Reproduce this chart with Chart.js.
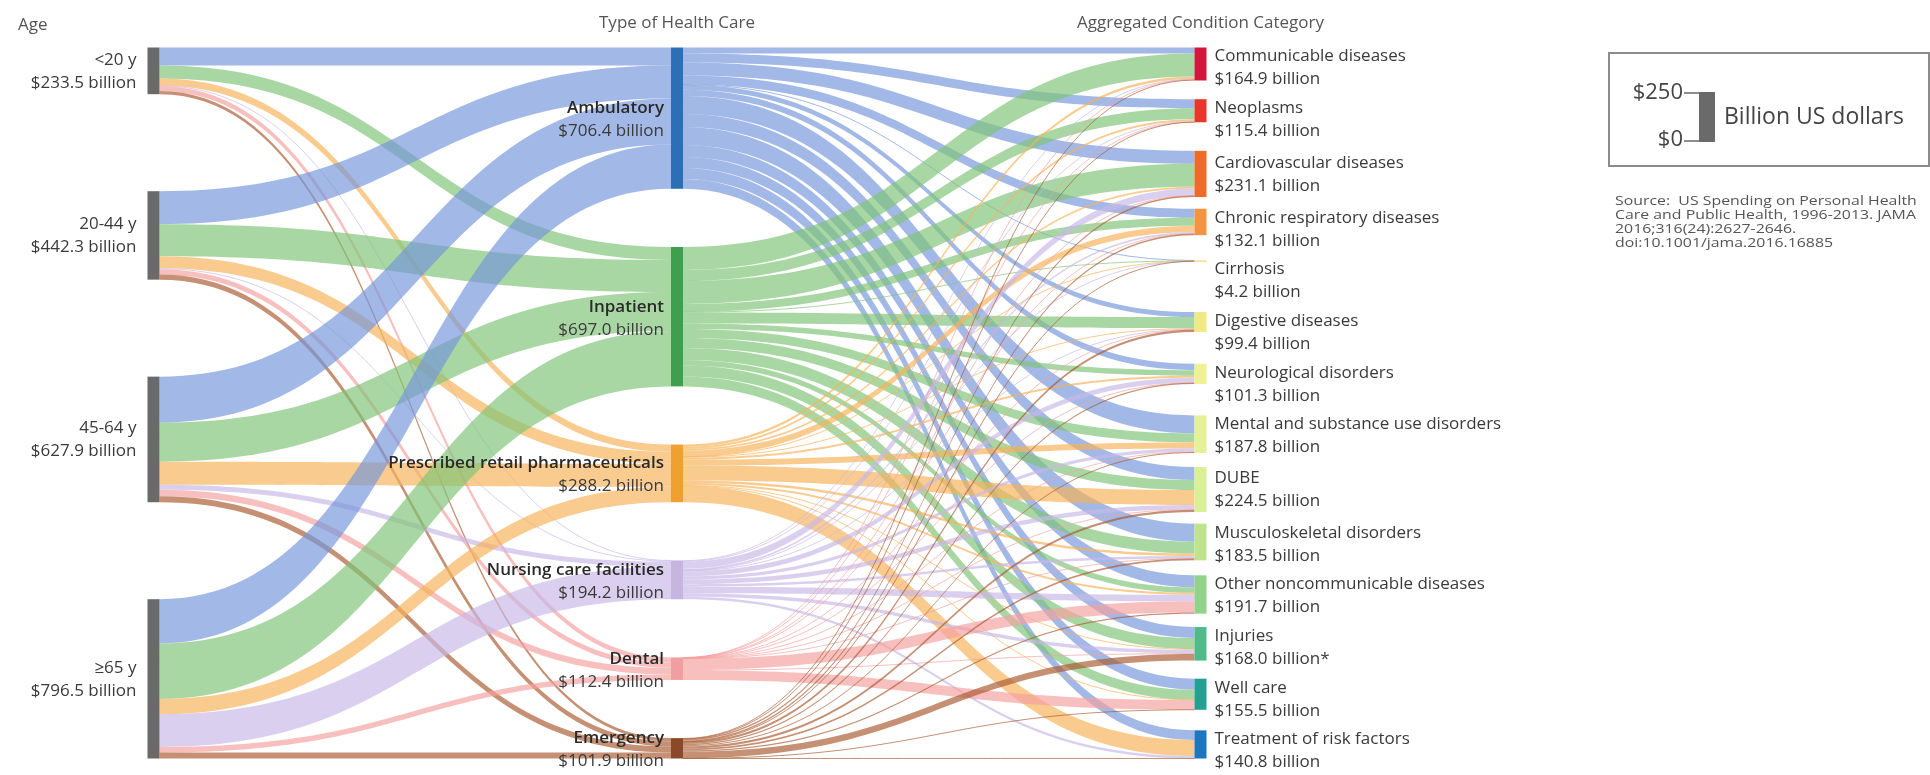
<!DOCTYPE html>
<html>
<head>
<meta charset="utf-8">
<script src="https://cdn.jsdelivr.net/npm/chart.js@4.4.1/dist/chart.umd.min.js"></script>
<style>
  html, body { margin: 0; padding: 0; background: #fff; }
  #wrap { width: 1930px; height: 775px; position: relative; }
</style>
</head>
<body>
<div id="wrap"><canvas id="sankey"></canvas></div>
<script>
// ---- data (billion US dollars) ----
const ageLabels = ['<20 y', '20-44 y', '45-64 y', '≥65 y'];
const ageTotals = [233.5, 442.3, 627.9, 796.5];

const careLabels = ['Ambulatory', 'Inpatient', 'Prescribed retail pharmaceuticals',
  'Nursing care facilities', 'Dental', 'Emergency'];
const careTotals = [706.4, 697.0, 288.2, 194.2, 112.4, 101.9];

const conditionLabels = ['Communicable diseases', 'Neoplasms', 'Cardiovascular diseases',
  'Chronic respiratory diseases', 'Cirrhosis', 'Digestive diseases', 'Neurological disorders',
  'Mental and substance use disorders', 'DUBE', 'Musculoskeletal disorders',
  'Other noncommunicable diseases', 'Injuries', 'Well care', 'Treatment of risk factors'];
const conditionTotals = [164.9, 115.4, 231.1, 132.1, 4.2, 99.4, 101.3, 187.8, 224.5, 183.5,
  191.7, 168.0, 155.5, 140.8];
const conditionNotes = ['', '', '', '', '', '', '', '', '', '', '', '*', '', ''];

// rows: age group, columns: type of care
const ageToCare = [
  [90, 65, 36, 1, 25, 16.5],
  [165, 160, 60, 5, 27, 25.3],
  [230, 195, 115, 25, 33, 29.9],
  [221.4, 277, 77.2, 163.2, 27.4, 30.3]
];

// rows: type of care, columns: condition category
const careToCondition = [
  [30, 45, 65, 45, 1, 25, 32, 90, 65, 90, 60, 55, 55, 48.4],
  [115, 55, 115, 40, 2.5, 55, 28, 45, 50, 59.5, 27, 55, 50, 0],
  [12, 10, 8, 31, 0.2, 4, 10, 30, 75, 12, 10, 4, 2, 80],
  [3, 4, 35, 9, 0.2, 3.5, 25, 17, 22, 12.5, 33, 18, 0, 12],
  [1, 0.5, 0.5, 0.5, 0, 1.5, 0.5, 0.5, 1, 0.5, 55.5, 2.4, 48, 0],
  [3.9, 0.9, 7.6, 6.6, 0.3, 10.4, 5.8, 5.3, 11.5, 9, 6.2, 33.6, 0.5, 0.4]
];

const sourceNote = ['Source:  US Spending on Personal Health',
  'Care and Public Health, 1996-2013. JAMA',
  '2016;316(24):2627-2646.',
  'doi:10.1001/jama.2016.16885'];

// ---- styles ----
const ageColor = '#6a6a6a';
const careColors = ['#2b6fb6', '#3ea04e', '#f0a030', '#c6b6df', '#ef9f9f', '#8a4a2a'];
const careFlowColors = ['rgba(118,150,218,0.68)', 'rgba(128,196,120,0.68)', 'rgba(247,178,88,0.68)',
  'rgba(200,184,230,0.68)', 'rgba(244,160,160,0.68)', 'rgba(170,92,50,0.68)'];
const conditionColors = ['#d2173d', '#e8362b', '#ee6a28', '#f49440', '#f2e08a', '#f1ea84',
  '#eef294', '#e4f197', '#d9ef98', '#bfe38e', '#93d28a', '#4fbb8a', '#24a092', '#1d76bf'];

const FONT = '"Open Sans", "Liberation Sans", sans-serif';
const TEXT = '#3a3a3a';
const NODE_W = 12;
const COLUMN_SPAN = 3555;  // height of each column in billions
const LABEL_SLOT = 200;    // room kept for a two-line label on the right

function fmt(v) { return '$' + v.toFixed(1) + ' billion'; }

function stack(values, minSlot) {
  const n = values.length;
  const slots = values.map(v => Math.max(v, minSlot));
  const used = slots.slice(0, n - 1).reduce((a, b) => a + b, 0) + values[n - 1];
  const gap = (COLUMN_SPAN - used) / (n - 1);
  let y = 0;
  return values.map((v, i) => {
    const node = { top: y, bottom: y + v, mid: y + slots[i] / 2 };
    y += slots[i] + gap;
    return node;
  });
}

function text(ctx, str, x, y, size, color, align, weight, stretch) {
  ctx.save();
  ctx.font = (weight || 'normal') + ' ' + size + 'px ' + FONT;
  ctx.fillStyle = color;
  ctx.textAlign = align || 'left';
  ctx.textBaseline = 'middle';
  ctx.translate(x, y);
  if (stretch) ctx.scale(stretch, 1);
  ctx.fillText(str, 0, 0);
  ctx.restore();
}

function band(ctx, x0, x1, a0, a1, b0, b1, color) {
  const xm = (x0 + x1) / 2;
  if (a1 - a0 < 1) {
    const ya = (a0 + a1) / 2, yb = (b0 + b1) / 2;
    ctx.beginPath();
    ctx.moveTo(x0, ya);
    ctx.bezierCurveTo(xm, ya, xm, yb, x1, yb);
    ctx.strokeStyle = color;
    ctx.lineWidth = 1;
    ctx.stroke();
    return;
  }
  ctx.beginPath();
  ctx.moveTo(x0, a0);
  ctx.bezierCurveTo(xm, a0, xm, b0, x1, b0);
  ctx.lineTo(x1, b1);
  ctx.bezierCurveTo(xm, b1, xm, a1, x0, a1);
  ctx.closePath();
  ctx.fillStyle = color;
  ctx.fill();
}

const sankeyPlugin = {
  id: 'sankey',
  afterDraw(chart) {
    const ctx = chart.ctx;
    const xs = chart.scales.x, ys = chart.scales.y;
    const Y = v => ys.getPixelForValue(v);
    const colX = [0, 1, 2].map(c => xs.getPixelForValue(c));

    const ageNodes = stack(ageTotals, 0);
    const careNodes = stack(careTotals, 0);
    const condNodes = stack(conditionTotals, LABEL_SLOT);

    ctx.save();
    // age -> type of care
    const ageOut = ageNodes.map(n => n.top);
    const careIn = careNodes.map(n => n.top);
    ageToCare.forEach((row, a) => {
      row.forEach((v, c) => {
        const s0 = ageOut[a], t0 = careIn[c];
        ageOut[a] += v; careIn[c] += v;
        band(ctx, colX[0] + NODE_W / 2, colX[1] - NODE_W / 2,
          Y(s0), Y(s0 + v), Y(t0), Y(t0 + v), careFlowColors[c]);
      });
    });
    // type of care -> condition
    const careOut = careNodes.map(n => n.top);
    const condIn = condNodes.map(n => n.top);
    careToCondition.forEach((row, c) => {
      row.forEach((v, k) => {
        const s0 = careOut[c], t0 = condIn[k];
        careOut[c] += v; condIn[k] += v;
        if (v <= 0) return;
        band(ctx, colX[1] + NODE_W / 2, colX[2] - NODE_W / 2,
          Y(s0), Y(s0 + v), Y(t0), Y(t0 + v), careFlowColors[c]);
      });
    });

    // node bars
    const bar = (x, n, color) => {
      ctx.fillStyle = color;
      ctx.fillRect(x - NODE_W / 2, Y(n.top), NODE_W, Math.max(1.5, Y(n.bottom) - Y(n.top)));
    };
    ageNodes.forEach(n => bar(colX[0], n, ageColor));
    careNodes.forEach((n, i) => bar(colX[1], n, careColors[i]));
    condNodes.forEach((n, i) => bar(colX[2], n, conditionColors[i]));

    // labels
    ageNodes.forEach((n, i) => {
      const m = Y((n.top + n.bottom) / 2);
      text(ctx, ageLabels[i], colX[0] - NODE_W / 2 - 11, m - 11, 17, TEXT, 'right');
      text(ctx, fmt(ageTotals[i]), colX[0] - NODE_W / 2 - 11, m + 12, 17, TEXT, 'right');
    });
    careNodes.forEach((n, i) => {
      const m = Y((n.top + n.bottom) / 2);
      text(ctx, careLabels[i], colX[1] - NODE_W / 2 - 7, m - 10, 17, '#2a2a2a', 'right', '600');
      text(ctx, fmt(careTotals[i]), colX[1] - NODE_W / 2 - 7, m + 13, 17, TEXT, 'right');
    });
    condNodes.forEach((n, i) => {
      const m = Y(n.mid);
      text(ctx, conditionLabels[i], colX[2] + NODE_W / 2 + 8, m - 11, 17, TEXT, 'left');
      text(ctx, fmt(conditionTotals[i]) + conditionNotes[i], colX[2] + NODE_W / 2 + 8, m + 12, 17, TEXT, 'left');
    });

    // column headers
    text(ctx, 'Age', 18, 25, 17, '#555', 'left');
    text(ctx, 'Type of Health Care', colX[1], 23, 17, '#555', 'center');
    text(ctx, 'Aggregated Condition Category', colX[2], 23, 17, '#555', 'center');

    // size key
    ctx.strokeStyle = '#8c8c8c';
    ctx.lineWidth = 2;
    ctx.strokeRect(1609, 53, 320, 113);
    const keyBottom = 142;
    const keyTop = keyBottom - (Y(250) - Y(0));
    ctx.fillStyle = '#6a6a6a';
    ctx.fillRect(1699, keyTop, 16, keyBottom - keyTop);
    ctx.strokeStyle = '#6a6a6a';
    ctx.lineWidth = 1.5;
    ctx.beginPath();
    ctx.moveTo(1684, keyTop + 1); ctx.lineTo(1699, keyTop + 1);
    ctx.moveTo(1684, keyBottom - 1); ctx.lineTo(1699, keyBottom - 1);
    ctx.stroke();
    text(ctx, '$250', 1683, keyTop + 1, 22, '#444', 'right');
    text(ctx, '$0', 1683, keyBottom - 2, 22, '#444', 'right');
    text(ctx, 'Billion US dollars', 1724, (keyTop + keyBottom) / 2, 23, '#444', 'left');

    sourceNote.forEach((line, i) => text(ctx, line, 1615, 201 + i * 14, 13, '#555', 'left', 'normal', 1.22));
    ctx.restore();
  }
};

new Chart(document.getElementById('sankey'), {
  type: 'scatter',
  data: { datasets: [] },
  options: {
    responsive: true,
    maintainAspectRatio: false,
    animation: false,
    layout: { padding: 0 },
    plugins: { legend: { display: false }, tooltip: { enabled: false } },
    scales: {
      x: { type: 'linear', display: false, min: -0.2932, max: 3.3935 },
      y: { type: 'linear', display: false, reverse: true, min: -237.5, max: 3637.5 }
    }
  },
  plugins: [sankeyPlugin]
});
</script>
</body>
</html>
